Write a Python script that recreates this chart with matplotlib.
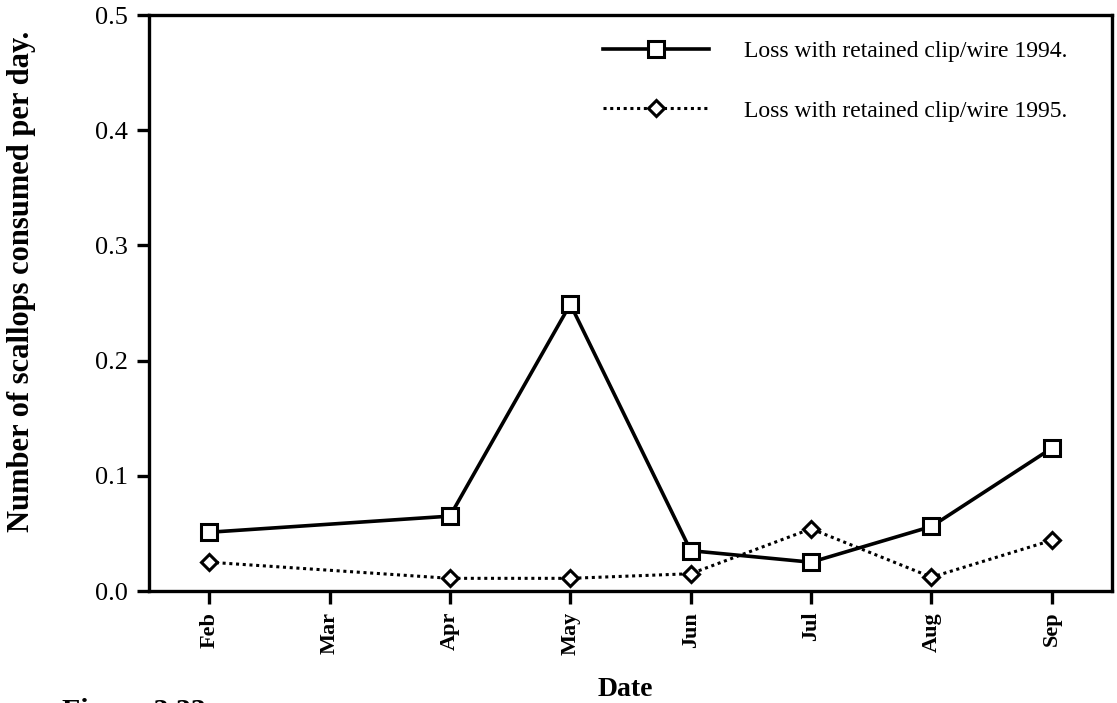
import matplotlib.pyplot as plt
import numpy as np

# axis categories and the sampled months
months = ['Feb', 'Mar', 'Apr', 'May', 'Jun', 'Jul', 'Aug', 'Sep']
sample_months = ['Feb', 'Apr', 'May', 'Jun', 'Jul', 'Aug', 'Sep']

loss_1994 = [0.051, 0.065, 0.249, 0.035, 0.025, 0.056, 0.124]
loss_1995 = [0.025, 0.011, 0.011, 0.015, 0.054, 0.012, 0.044]

label_1994 = 'Loss with retained clip/wire 1994.'
label_1995 = 'Loss with retained clip/wire 1995.'

plt.rcParams['font.family'] = ['Liberation Serif', 'DejaVu Serif']

x = np.array([months.index(m) for m in sample_months])

fig = plt.figure(figsize=(11.17, 7.03), dpi=100)
ax = fig.add_axes([149 / 1117, 1 - 591 / 703, (1112 - 149) / 1117, (591 - 15) / 703])

ax.plot(x, loss_1994, color='black', lw=2.6, marker='s', markersize=11.5,
        markerfacecolor='white', markeredgecolor='black', markeredgewidth=2.2,
        label=label_1994, zorder=3)
ax.plot(x, loss_1995, color='black', lw=2.2, linestyle=(0, (1, 1.2)), marker='D',
        markersize=8, markerfacecolor='white', markeredgecolor='black',
        markeredgewidth=2.2, label=label_1995, zorder=3)

ax.set_xlim(-0.5, len(months) - 0.5)
ax.set_ylim(0, 0.5)
ax.set_xticks(range(len(months)))
ax.set_xticklabels(months, rotation=90, fontsize=16, fontweight='bold')
ax.set_yticks(np.arange(0, 0.51, 0.1))
ax.set_yticklabels([f'{v:.1f}' for v in np.arange(0, 0.51, 0.1)], fontsize=19)

for s in ax.spines.values():
    s.set_linewidth(2.4)
ax.tick_params(axis='both', direction='out', length=9, width=2.4, pad=6)

ax.set_ylabel('Number of scallops consumed per day.', fontsize=22, fontweight='bold')
ax.yaxis.set_label_coords(-0.117, 0.538)
ax.set_xlabel('Date', fontsize=20, fontweight='bold')
ax.xaxis.set_label_coords(0.495, -0.149)

leg = ax.legend(loc='upper left', bbox_to_anchor=(0.471, 0.955), frameon=False,
                fontsize=17, numpoints=1, handlelength=4.5, handletextpad=1.5,
                labelspacing=1.6, borderpad=0, borderaxespad=0)

# caption line of the page, cut off at the bottom edge as in the scan
fig.text(62 / 1117, 1 - 698 / 703, 'Figure 3.33', fontsize=21.5, fontweight='bold',
         va='top', ha='left')

fig.savefig('out.png', dpi=100)
